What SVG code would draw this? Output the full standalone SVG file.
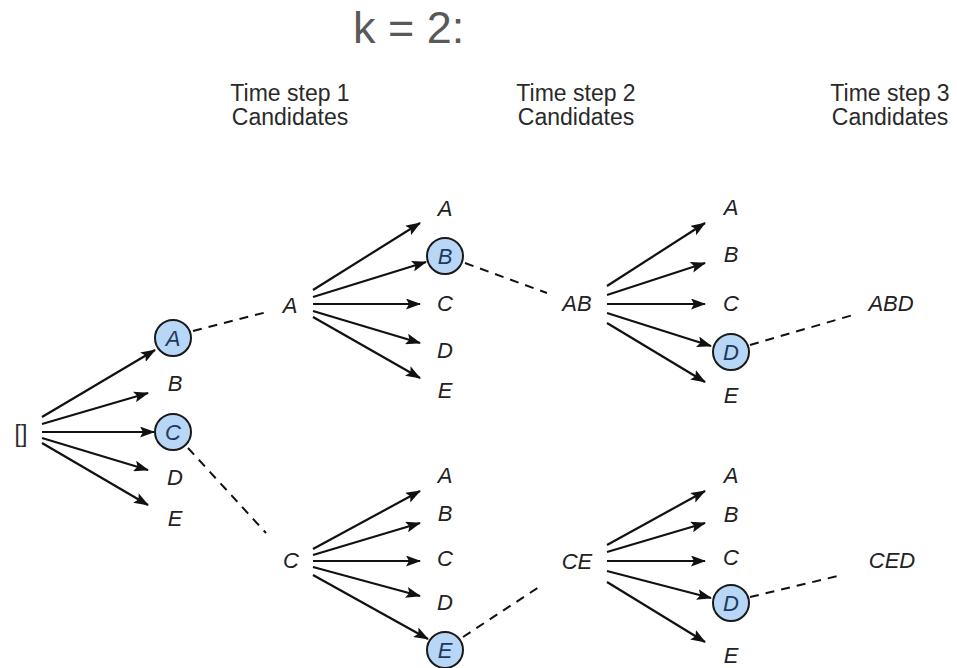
<svg xmlns="http://www.w3.org/2000/svg" width="957" height="668" viewBox="0 0 957 668">
<defs>
<marker id="ah" markerUnits="userSpaceOnUse" markerWidth="15" markerHeight="11" refX="14" refY="5.5" orient="auto">
<path d="M0,0 L15,5.5 L0,11 L3,5.5 Z" fill="#111"/>
</marker>
<style>
.lbl{font-family:"Liberation Sans",Arial,sans-serif;font-style:italic;font-size:22px;fill:#222;text-anchor:middle}
.sel{font-family:"Liberation Sans",Arial,sans-serif;font-style:italic;font-size:22px;fill:#1d3a5c;text-anchor:middle}
.hdr{font-family:"Liberation Sans",Arial,sans-serif;font-size:23px;fill:#2a2a2a;text-anchor:middle}
.ttl{font-family:"Liberation Sans",Arial,sans-serif;font-size:45px;fill:#595959}
.arr{stroke:#111;stroke-width:2.2;fill:none;marker-end:url(#ah)}
.dash{stroke:#111;stroke-width:2;fill:none;stroke-dasharray:9 7}
.circ{fill:#b8d6f6;stroke:#1a1a1a;stroke-width:2}
</style>
</defs>
<rect width="957" height="668" fill="#fff"/>
<g id="title"><text class="ttl" x="353" y="43">k = 2:</text></g>
<g id="headers">
<text class="hdr" x="290" y="101">Time step 1</text><text class="hdr" x="290" y="125">Candidates</text>
<text class="hdr" x="576" y="101">Time step 2</text><text class="hdr" x="576" y="125">Candidates</text>
<text class="hdr" x="890" y="101">Time step 3</text><text class="hdr" x="890" y="125">Candidates</text>
</g>
<g id="connectors">
<line class="arr" x1="42" y1="417" x2="155" y2="350"/>
<line class="arr" x1="42" y1="424" x2="148" y2="393"/>
<line class="arr" x1="42" y1="432" x2="154" y2="432"/>
<line class="arr" x1="42" y1="438" x2="148" y2="470"/>
<line class="arr" x1="42" y1="443" x2="148" y2="505"/>
<line class="dash" x1="193" y1="331" x2="267" y2="312"/>
<line class="dash" x1="188" y1="448" x2="266" y2="533"/>
<line class="arr" x1="313" y1="290" x2="420" y2="223"/>
<line class="arr" x1="313" y1="297" x2="426" y2="262"/>
<line class="arr" x1="313" y1="304" x2="420" y2="304"/>
<line class="arr" x1="313" y1="311" x2="420" y2="343"/>
<line class="arr" x1="313" y1="317" x2="420" y2="378"/>
<line class="dash" x1="465" y1="263" x2="547" y2="293"/>
<line class="arr" x1="607" y1="286" x2="705" y2="223"/>
<line class="arr" x1="607" y1="295" x2="705" y2="263"/>
<line class="arr" x1="607" y1="304" x2="705" y2="304"/>
<line class="arr" x1="607" y1="313" x2="711" y2="346"/>
<line class="arr" x1="607" y1="323" x2="705" y2="382"/>
<line class="dash" x1="750" y1="345" x2="853" y2="315"/>
<line class="arr" x1="313" y1="549" x2="420" y2="491"/>
<line class="arr" x1="313" y1="555" x2="420" y2="523"/>
<line class="arr" x1="313" y1="561" x2="420" y2="561"/>
<line class="arr" x1="313" y1="567" x2="420" y2="596"/>
<line class="arr" x1="313" y1="575" x2="428" y2="639"/>
<line class="dash" x1="463" y1="637" x2="542" y2="585"/>
<line class="arr" x1="607" y1="545" x2="705" y2="491"/>
<line class="arr" x1="607" y1="552" x2="705" y2="523"/>
<line class="arr" x1="607" y1="561" x2="705" y2="561"/>
<line class="arr" x1="607" y1="571" x2="711" y2="598"/>
<line class="arr" x1="607" y1="582" x2="705" y2="642"/>
<line class="dash" x1="750" y1="597" x2="842" y2="575"/>
</g>
<g id="root"><text class="hdr" x="21" y="442">[]</text></g>
<g id="t1-A"><circle class="circ" cx="173" cy="338" r="18"/><text class="sel" x="173" y="346">A</text></g>
<g id="t1-B"><text class="lbl" x="175" y="391">B</text></g>
<g id="t1-C"><circle class="circ" cx="173" cy="432" r="18"/><text class="sel" x="173" y="440">C</text></g>
<g id="t1-D"><text class="lbl" x="175" y="485">D</text></g>
<g id="t1-E"><text class="lbl" x="175" y="526">E</text></g>
<g id="s-A"><text class="lbl" x="290" y="313">A</text></g>
<g id="s-C"><text class="lbl" x="291" y="568">C</text></g>
<g id="A-A"><text class="lbl" x="445" y="216">A</text></g>
<g id="A-B"><circle class="circ" cx="445" cy="256" r="18"/><text class="sel" x="445" y="264">B</text></g>
<g id="A-C"><text class="lbl" x="445" y="311">C</text></g>
<g id="A-D"><text class="lbl" x="445" y="358">D</text></g>
<g id="A-E"><text class="lbl" x="445" y="398">E</text></g>
<g id="C-A"><text class="lbl" x="445" y="483">A</text></g>
<g id="C-B"><text class="lbl" x="445" y="521">B</text></g>
<g id="C-C"><text class="lbl" x="445" y="566">C</text></g>
<g id="C-D"><text class="lbl" x="445" y="610">D</text></g>
<g id="C-E"><circle class="circ" cx="445" cy="650" r="18"/><text class="sel" x="445" y="658">E</text></g>
<g id="s-AB"><text class="lbl" x="577" y="311">AB</text></g>
<g id="s-CE"><text class="lbl" x="577" y="569">CE</text></g>
<g id="AB-A"><text class="lbl" x="731" y="215">A</text></g>
<g id="AB-B"><text class="lbl" x="731" y="262">B</text></g>
<g id="AB-C"><text class="lbl" x="731" y="311">C</text></g>
<g id="AB-D"><circle class="circ" cx="731" cy="352" r="18"/><text class="sel" x="731" y="360">D</text></g>
<g id="AB-E"><text class="lbl" x="731" y="403">E</text></g>
<g id="CE-A"><text class="lbl" x="731" y="483">A</text></g>
<g id="CE-B"><text class="lbl" x="731" y="522">B</text></g>
<g id="CE-C"><text class="lbl" x="731" y="565">C</text></g>
<g id="CE-D"><circle class="circ" cx="731" cy="603" r="18"/><text class="sel" x="731" y="611">D</text></g>
<g id="CE-E"><text class="lbl" x="731" y="663">E</text></g>
<g id="s-ABD"><text class="lbl" x="891" y="311">ABD</text></g>
<g id="s-CED"><text class="lbl" x="892" y="568">CED</text></g>
</svg>
